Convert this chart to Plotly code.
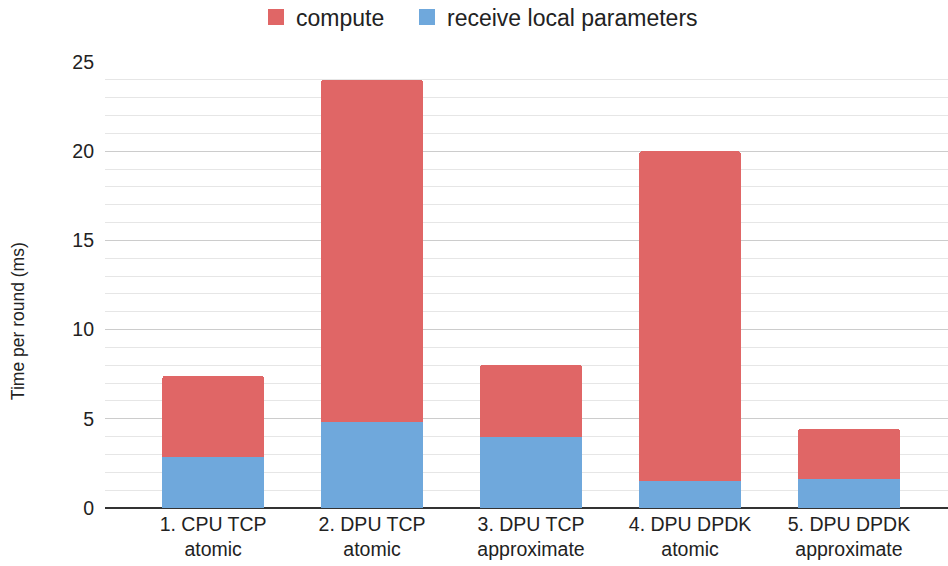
import plotly.graph_objects as go

categories = ["1. CPU TCP<br>atomic", "2. DPU TCP<br>atomic", "3. DPU TCP<br>approximate",
              "4. DPU DPDK<br>atomic", "5. DPU DPDK<br>approximate"]
receive_vals = [2.86, 4.84, 3.98, 1.53, 1.63]
compute_vals = [4.54, 19.16, 4.05, 18.47, 2.82]
series_names = ["compute", "receive local parameters"]

RED = "#E06666"
BLUE = "#6FA8DC"
FONT = "Liberation Sans, Arial, sans-serif"

fig = go.Figure()
fig.add_trace(go.Bar(x=categories, y=receive_vals, name=series_names[1],
                     marker=dict(color=BLUE, line=dict(width=0)), showlegend=False))
fig.add_trace(go.Bar(x=categories, y=compute_vals, name=series_names[0],
                     marker=dict(color=RED, line=dict(width=0)), showlegend=False))
# legend entries with square swatches, one legend box each for exact placement
for nm, col, lg in zip(series_names, [RED, BLUE], ["legend", "legend2"]):
    fig.add_trace(go.Scatter(x=[None], y=[None], mode="markers", name=nm, legend=lg,
                             marker=dict(symbol="square", size=20, color=col),
                             showlegend=True))

legend_common = dict(orientation="h", yanchor="middle", y=0.97, xanchor="left",
                     xref="container", yref="container",
                     font=dict(size=23, color="#222222"), itemwidth=30,
                     bgcolor="rgba(0,0,0,0)")

fig.update_layout(
    width=948, height=566,
    barmode="stack", bargap=0.36, barcornerradius=3,
    plot_bgcolor="white", paper_bgcolor="white",
    font=dict(family=FONT, size=16, color="#222222"),
    margin=dict(l=105, r=0, t=62, b=58, autoexpand=False),
    legend=dict(legend_common, x=256 / 948),
    legend2=dict(legend_common, x=407 / 948),
    xaxis=dict(range=[-0.68, 4.623], showgrid=False, tickfont=dict(size=19.5),
               ticks="", showline=False, automargin=False, ticklabelstandoff=2),
    yaxis=dict(range=[0, 25], dtick=5, tick0=0, gridcolor="#cccccc", gridwidth=1,
               zeroline=True, zerolinecolor="#333333", zerolinewidth=1.5,
               tickfont=dict(size=19.5), ticks="", ticklabelstandoff=10, automargin=False,
               minor=dict(dtick=1, tick0=0, showgrid=True, gridcolor="#e6e6e6", gridwidth=1)),
    annotations=[dict(text="Time per round (ms)", xref="paper", yref="paper",
                      x=-0.1032, y=0.419, textangle=-90, showarrow=False,
                      xanchor="center", yanchor="middle",
                      font=dict(size=17.5, color="#222222"))],
)

fig.write_html("out.html", config={"displayModeBar": False},
               post_script="document.body.style.margin='0';")
